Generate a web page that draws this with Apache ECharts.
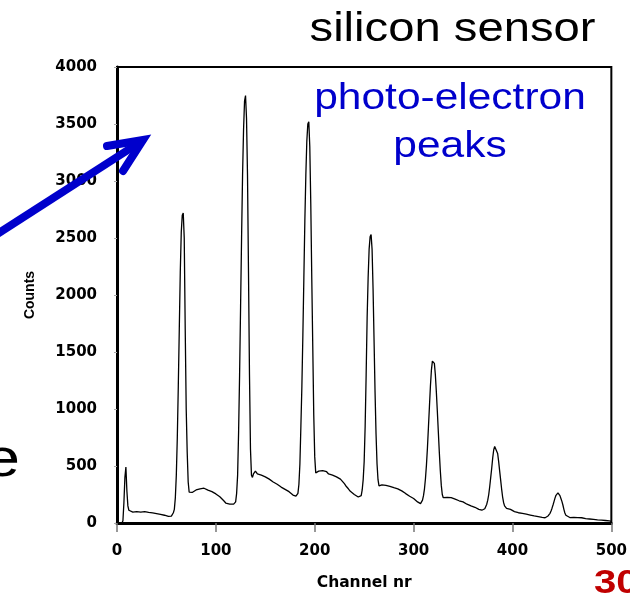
<!DOCTYPE html>
<html>
<head>
<meta charset="utf-8">
<script src="https://cdn.jsdelivr.net/npm/echarts@6/dist/echarts.min.js"></script>
<style>
  html, body { margin: 0; padding: 0; background: #fff; }
  #chart { width: 630px; height: 596px; }
</style>
</head>
<body>
<div id="chart"></div>
<script>
// Pulse-height spectrum: counts per ADC channel
const channelNr = [
  5, 6, 7, 8, 9, 10, 11, 12,
  14, 16, 18, 20, 22, 24, 26, 28, 30, 32, 34, 36, 38, 40, 42, 44, 46, 48, 50, 52, 54, 55, 56,
  57, 58, 59, 60, 61, 62, 63, 64, 65, 66, 67, 68, 69, 70, 71, 72, 73,
  74, 75, 76, 78, 80, 82, 84, 86, 88, 90, 92, 94, 96, 98, 100, 102, 104, 106, 108, 110, 112, 114, 116, 118, 119,
  120, 121, 122, 123, 124, 125, 126, 127, 128, 129, 130, 131, 132, 133, 134, 135, 136,
  137, 138, 140, 142, 144, 146, 148, 150, 152, 154, 156, 158, 160, 162, 164, 166, 168, 170, 172, 174, 176, 178, 180, 181, 182,
  183, 184, 185, 186, 187, 188, 189, 190, 191, 192, 193, 194, 195, 196, 197, 198, 199, 200, 201,
  202, 204, 206, 208, 210, 212, 214, 216, 218, 220, 222, 224, 226, 228, 230, 232, 234, 236, 238, 240, 242, 244, 246, 247,
  248, 249, 250, 251, 252, 253, 254, 255, 256, 257, 258, 259, 260, 261, 262, 263, 264, 265,
  266, 268, 270, 272, 274, 276, 278, 280, 282, 284, 286, 288, 290, 292, 294, 296, 298, 300, 302, 304, 306, 307, 308,
  309, 310, 311, 312, 313, 314, 315, 316, 317, 318, 319, 320, 321, 322, 323, 324, 325, 326, 327, 328, 329,
  330, 332, 334, 336, 338, 340, 342, 344, 346, 348, 350, 352, 354, 356, 358, 360, 362, 364, 366, 368, 369, 370,
  371, 372, 373, 374, 375, 376, 377, 378, 379, 380, 381, 382, 383, 384, 385, 386, 387, 388, 389, 390, 391, 392, 393,
  394, 396, 398, 400, 402, 404, 406, 408, 410, 412, 414, 416, 418, 420, 422, 424, 426, 428, 430, 432, 433, 434,
  435, 436, 437, 438, 439, 440, 441, 442, 443, 444, 445, 446, 447, 448, 449, 450, 451, 452, 453, 454,
  455, 456, 458, 460, 462, 464, 466, 468, 470, 472, 474, 476, 478, 480, 482, 484, 486, 488, 490, 492, 494, 496, 498, 500
];
const counts = [
  0, 20, 180, 400, 490, 280, 150, 112,
  105, 95, 108, 100, 104, 96, 107, 99, 102, 93, 98, 88, 92, 82, 86, 75, 73, 68, 63, 58, 55, 60, 72,
  90, 120, 220, 420, 750, 1200, 1700, 2200, 2550, 2700, 2720, 2500, 1700, 1000, 620, 360, 270,
  262, 255, 268, 275, 290, 282, 300, 292, 305, 296, 288, 290, 275, 268, 255, 248, 230, 215, 195, 175, 160, 165, 158, 165, 172,
  185, 260, 420, 800, 1300, 1900, 2500, 3050, 3450, 3700, 3750, 3550, 3050, 2200, 1300, 650, 420,
  400, 430, 455, 430, 445, 420, 425, 405, 400, 385, 380, 360, 362, 340, 330, 315, 300, 295, 280, 275, 258, 245, 238, 235, 230,
  260, 340, 520, 850, 1200, 1650, 2150, 2650, 3050, 3350, 3500, 3520, 3300, 2800, 2150, 1550, 950, 580, 440,
  430, 455, 440, 460, 445, 450, 430, 440, 420, 415, 405, 398, 385, 368, 345, 320, 300, 278, 262, 250, 235, 228, 228, 240,
  290, 380, 540, 850, 1300, 1800, 2150, 2400, 2510, 2530, 2400, 2050, 1600, 1150, 780, 520, 380, 325,
  318, 335, 345, 330, 338, 322, 330, 310, 315, 300, 290, 282, 268, 258, 250, 235, 225, 215, 200, 185, 175, 170, 178,
  200, 240, 300, 390, 510, 660, 840, 1020, 1200, 1340, 1420, 1432, 1400, 1300, 1150, 980, 800, 620, 460, 330, 250,
  222, 215, 225, 218, 222, 220, 210, 205, 195, 190, 185, 175, 165, 160, 150, 142, 138, 128, 120, 118, 112, 110,
  115, 125, 140, 165, 200, 250, 320, 400, 480, 570, 640, 672, 678, 660, 610, 540, 460, 380, 300, 230, 180, 150, 135,
  128, 122, 119, 110, 100, 98, 90, 92, 84, 86, 78, 76, 70, 68, 62, 60, 56, 55, 50, 48, 46, 50,
  55, 62, 72, 85, 105, 130, 158, 188, 218, 243, 258, 264, 258, 240, 215, 190, 158, 120, 88, 68,
  57, 52, 48, 45, 50, 44, 47, 42, 46, 40, 38, 40, 35, 36, 32, 32, 28, 30, 25, 24, 22, 20, 18, 15
];

const xRange = [0, 500];
const xStep = 100;
const yRange = [0, 4000];
const yStep = 500;

const titleText = 'silicon sensor';
const noteLines = ['photo-electron', 'peaks'];
const xName = 'Channel nr';
const yName = 'Counts';

const tickFont = {
  fontFamily: 'DejaVu Sans', fontWeight: 'bold', fontSize: 15, color: '#000',
  formatter: v => String(v)
};
const blue = '#0000CC';

const chart = echarts.init(document.getElementById('chart'), null, { renderer: 'canvas' });

function textEl(text, x, y, size, color, opts) {
  opts = opts || {};
  return {
    type: 'text', x: x, y: y, z: 100, scaleX: opts.scaleX || 1.18,
    style: {
      text: text, fill: color,
      fontFamily: '"Liberation Sans", Arial, sans-serif',
      fontSize: size, fontWeight: opts.weight || 'normal',
      align: opts.align || 'center', verticalAlign: 'middle',
      textAlign: opts.align || 'center', textVerticalAlign: 'middle'
    }
  };
}

chart.setOption({
  animation: false,
  backgroundColor: '#fff',
  grid: {
    left: 117, right: 17.5, top: 67, bottom: 68,
    show: true, borderColor: '#000', borderWidth: 2, backgroundColor: 'transparent'
  },
  xAxis: {
    type: 'value', min: xRange[0], max: xRange[1], interval: xStep,
    name: xName, nameLocation: 'middle', nameGap: 52,
    nameTextStyle: { fontFamily: 'DejaVu Sans', fontWeight: 'bold', fontSize: 15.5, color: '#000' },
    axisLine: { show: true, onZero: false, lineStyle: { color: '#000', width: 3 } },
    axisTick: { show: true, length: 9, lineStyle: { color: '#777', width: 1.5 } },
    axisLabel: Object.assign({ margin: 21 }, tickFont),
    splitLine: { show: false }
  },
  yAxis: {
    type: 'value', min: yRange[0], max: yRange[1], interval: yStep,
    name: yName, nameLocation: 'middle', nameGap: 80,
    nameTextStyle: { fontFamily: '"Liberation Sans", Arial, sans-serif', fontWeight: 'bold', fontSize: 14, color: '#000' },
    axisLine: { show: true, onZero: false, lineStyle: { color: '#000', width: 3 } },
    axisTick: { show: true, length: 3, lineStyle: { color: '#aaa', width: 1 } },
    axisLabel: Object.assign({ margin: 20 }, tickFont),
    splitLine: { show: false }
  },
  series: [{
    type: 'line',
    data: channelNr.map((c, i) => [c, counts[i]]),
    symbol: 'none', showSymbol: false, smooth: false,
    lineStyle: { color: '#000', width: 1.3 },
    z: 3
  }],
  graphic: [
    textEl(titleText, 452.5, 30, 40, '#000'),
    textEl(noteLines[0], 450, 99, 36, blue),
    textEl(noteLines[1], 450, 147.5, 36, blue),
    textEl('e', 20, 461, 54, '#000', { align: 'right' }),
    textEl('30', 594, 584, 34, '#C00000', { align: 'left', weight: 'bold' }),
    {
      type: 'polyline', z: 101,
      shape: { points: [[-5, 235.5], [138, 143.5]] },
      style: { stroke: blue, lineWidth: 8, fill: null, lineCap: 'butt' }
    },
    {
      type: 'polyline', z: 101,
      shape: { points: [[107, 146], [143, 140], [123, 171]] },
      style: { stroke: blue, lineWidth: 8, fill: null, lineCap: 'round', lineJoin: 'miter' }
    }
  ]
});
</script>
</body>
</html>
